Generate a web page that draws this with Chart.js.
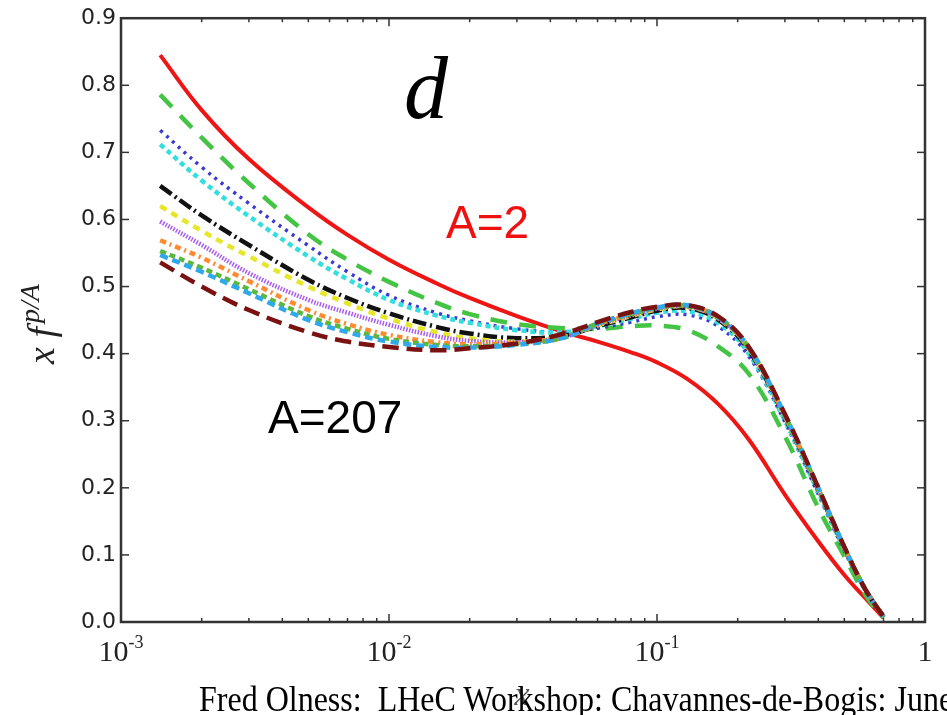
<!DOCTYPE html>
<html>
<head>
<meta charset="utf-8">
<script src="https://cdn.jsdelivr.net/npm/chart.js@4.4.1/dist/chart.umd.min.js"></script>
<style>
  body { margin: 0; background: #fff; overflow: hidden; }
  #wrap { position: relative; width: 947px; height: 715px; }
  #footer {
    position: absolute; left: 199px; top: 679px; white-space: nowrap;
    font-family: "Liberation Serif", serif; font-size: 32px; color: #000;
    transform: scaleY(1.1); transform-origin: left top;
  }
</style>
</head>
<body>
<div id="wrap">
  <canvas id="myChart" width="947" height="715"></canvas>
  <div id="footer">Fred Olness:&nbsp; LHeC Workshop: Chavannes-de-Bogis: June</div>
</div>
<script>
// x grid shared by every curve
const xValues = [0.0014, 0.002, 0.003, 0.005, 0.007, 0.01, 0.015, 0.02, 0.03, 0.045,
                 0.06, 0.08, 0.1, 0.13, 0.17, 0.22, 0.3, 0.4, 0.5, 0.6, 0.7];

// x f^{p/A} for the d quark, one array per nucleus
const dA2   = [0.845, 0.763, 0.690, 0.618, 0.577, 0.540, 0.505, 0.483, 0.456, 0.432, 0.418, 0.402, 0.387, 0.362, 0.324, 0.272, 0.190, 0.120, 0.070, 0.035, 0.006];
const dA4   = [0.786, 0.722, 0.654, 0.578, 0.540, 0.507, 0.476, 0.459, 0.444, 0.438, 0.437, 0.441, 0.442, 0.435, 0.410, 0.370, 0.277, 0.170, 0.098, 0.040, 0.006];
const dA9   = [0.733, 0.678, 0.624, 0.561, 0.522, 0.487, 0.461, 0.449, 0.437, 0.432, 0.438, 0.447, 0.455, 0.458, 0.440, 0.396, 0.298, 0.190, 0.106, 0.046, 0.008];
const dA12  = [0.712, 0.658, 0.605, 0.545, 0.511, 0.480, 0.457, 0.446, 0.435, 0.432, 0.441, 0.452, 0.461, 0.463, 0.445, 0.400, 0.300, 0.193, 0.108, 0.047, 0.008];
const dA27  = [0.650, 0.606, 0.562, 0.510, 0.483, 0.460, 0.440, 0.430, 0.423, 0.427, 0.441, 0.454, 0.464, 0.468, 0.450, 0.405, 0.305, 0.197, 0.110, 0.048, 0.008];
const dA40  = [0.620, 0.583, 0.545, 0.500, 0.475, 0.452, 0.432, 0.423, 0.418, 0.426, 0.442, 0.456, 0.466, 0.470, 0.452, 0.407, 0.306, 0.198, 0.110, 0.048, 0.008];
const dA56  = [0.597, 0.562, 0.520, 0.480, 0.461, 0.443, 0.426, 0.419, 0.417, 0.425, 0.443, 0.457, 0.467, 0.470, 0.452, 0.408, 0.306, 0.198, 0.110, 0.048, 0.008];
const dA64  = [0.569, 0.543, 0.508, 0.465, 0.444, 0.428, 0.417, 0.414, 0.416, 0.425, 0.444, 0.458, 0.468, 0.471, 0.453, 0.408, 0.307, 0.199, 0.111, 0.048, 0.008];
const dA118 = [0.553, 0.528, 0.496, 0.456, 0.437, 0.422, 0.413, 0.411, 0.414, 0.424, 0.445, 0.459, 0.468, 0.471, 0.454, 0.409, 0.308, 0.199, 0.111, 0.048, 0.008];
const dA197 = [0.547, 0.522, 0.490, 0.450, 0.432, 0.418, 0.410, 0.409, 0.413, 0.424, 0.445, 0.460, 0.469, 0.472, 0.454, 0.409, 0.309, 0.200, 0.112, 0.048, 0.008];
const dA207 = [0.536, 0.500, 0.465, 0.432, 0.418, 0.410, 0.405, 0.408, 0.415, 0.430, 0.447, 0.462, 0.470, 0.472, 0.455, 0.410, 0.310, 0.200, 0.112, 0.048, 0.008];

const seriesLabels = ['A=2', 'A=4', 'A=9', 'A=12', 'A=27', 'A=40', 'A=56', 'A=64', 'A=118', 'A=197', 'A=207'];
const seriesValues = [dA2, dA4, dA9, dA12, dA27, dA40, dA56, dA64, dA118, dA197, dA207];
const seriesColors = ['#ee1515', '#44c444', '#3a3ad0', '#33dede', '#111111', '#e6e62a',
                      '#a95cf0', '#ff8a30', '#5cb83c', '#30a8ec', '#7a1212'];
const seriesDash = [[], [17, 12], [3, 5], [5, 4], [14, 4, 2, 4], [7, 6], [1.5, 1.5],
                    [6, 4, 2, 4], [6, 4], [8, 5], [16, 8]];

// axis ticks
const yTicks = [0, 0.1, 0.2, 0.3, 0.4, 0.5, 0.6, 0.7, 0.8, 0.9];
const xTicks = [0.001, 0.01, 0.1, 1];
const xTickBase = ['10', '10', '10', '1'];
const xTickExp = ['-3', '-2', '-1', ''];

// frame, inward ticks, x labels and annotations
const decorations = {
    id: 'decorations',
    afterDatasetsDraw(chart) {
        const {ctx, chartArea: a, scales: {x, y}} = chart;
        ctx.save();
        ctx.strokeStyle = '#333';
        ctx.lineWidth = 2.5;
        ctx.strokeRect(a.left, a.top, a.right - a.left, a.bottom - a.top);

        ctx.lineWidth = 1.5;
        const seg = (x1, y1, x2, y2) => {
            ctx.beginPath(); ctx.moveTo(x1, y1); ctx.lineTo(x2, y2); ctx.stroke();
        };
        yTicks.forEach(v => {
            const py = y.getPixelForValue(v);
            seg(a.left, py, a.left + 8, py);
            seg(a.right, py, a.right - 8, py);
        });
        for (let d = -3; d < 0; d++) {
            for (let m = 1; m < 10; m++) {
                const px = x.getPixelForValue(m * Math.pow(10, d));
                const len = m === 1 ? 8 : 4;
                seg(px, a.bottom, px, a.bottom - len);
                seg(px, a.top, px, a.top + len);
            }
        }

        // x tick labels with superscript exponent
        ctx.fillStyle = '#222';
        ctx.textBaseline = 'alphabetic';
        xTicks.forEach((v, i) => {
            const px = x.getPixelForValue(v);
            ctx.font = '30px "Liberation Serif"';
            const wb = ctx.measureText(xTickBase[i]).width;
            ctx.font = '18px "Liberation Serif"';
            const we = ctx.measureText(xTickExp[i]).width;
            const x0 = px - (wb + we) / 2;
            ctx.textAlign = 'left';
            ctx.font = '30px "Liberation Serif"';
            ctx.fillText(xTickBase[i], x0, 661);
            ctx.font = '18px "Liberation Serif"';
            ctx.fillText(xTickExp[i], x0 + wb, 648);
        });

        // axis titles
        ctx.fillStyle = '#555';
        ctx.font = 'italic 34px "Liberation Serif"';
        ctx.textAlign = 'center';
        ctx.fillText('x', 522, 705);

        ctx.save();
        ctx.translate(54, 324);
        ctx.rotate(-Math.PI / 2);
        ctx.fillStyle = '#222';
        ctx.textAlign = 'left';
        ctx.font = 'italic 38px "Liberation Serif"';
        const wMain = ctx.measureText('x f').width;
        ctx.font = 'italic 28px "Liberation Serif"';
        const wSup = ctx.measureText('p/A').width;
        const sx = -(wMain + wSup + 4) / 2;
        ctx.font = 'italic 38px "Liberation Serif"';
        ctx.fillText('x f', sx, 0);
        ctx.font = 'italic 28px "Liberation Serif"';
        ctx.fillText('p/A', sx + wMain + 4, -15);
        ctx.restore();

        // annotations
        ctx.fillStyle = '#000';
        ctx.textAlign = 'left';
        ctx.font = 'italic 88px "Liberation Serif"';
        ctx.fillText('d', 404, 118);
        ctx.font = '46px "Liberation Sans"';
        ctx.fillStyle = '#f01010';
        ctx.fillText('A=2', 446, 238);
        ctx.fillStyle = '#000';
        ctx.fillText('A=207', 268, 433);
        ctx.restore();
    }
};

const datasets = seriesValues.map((vals, i) => ({
    label: seriesLabels[i],
    data: xValues.map((xv, j) => ({x: xv, y: vals[j]})),
    borderColor: seriesColors[i],
    borderDash: seriesDash[i],
    borderWidth: i === 0 ? 4 : (i === 2 ? 3.5 : 4.5),
    pointRadius: 0,
    fill: false,
    tension: 0.4,
    order: seriesValues.length - i
}));

const chart = new Chart(document.getElementById('myChart'), {
    type: 'line',
    data: {datasets},
    options: {
        responsive: false,
        animation: false,
        devicePixelRatio: 1,
        layout: {padding: {top: 13, right: 22, left: 0, bottom: 0}},
        plugins: {
            legend: {display: false},
            tooltip: {enabled: false}
        },
        scales: {
            x: {
                type: 'logarithmic',
                min: 0.001,
                max: 1,
                grid: {display: false},
                border: {display: false},
                ticks: {display: false},
                afterFit: s => { s.height = 93; }
            },
            y: {
                min: 0,
                max: 0.9,
                grid: {display: false, drawTicks: false},
                border: {display: false},
                afterBuildTicks: s => { s.ticks = yTicks.map(v => ({value: v})); },
                ticks: {
                    padding: 5,
                    color: '#222',
                    font: {family: 'DejaVu Sans', size: 22},
                    callback: v => v.toFixed(1)
                },
                afterFit: s => { s.width = 121; }
            }
        }
    },
    plugins: [decorations]
});
</script>
</body>
</html>
